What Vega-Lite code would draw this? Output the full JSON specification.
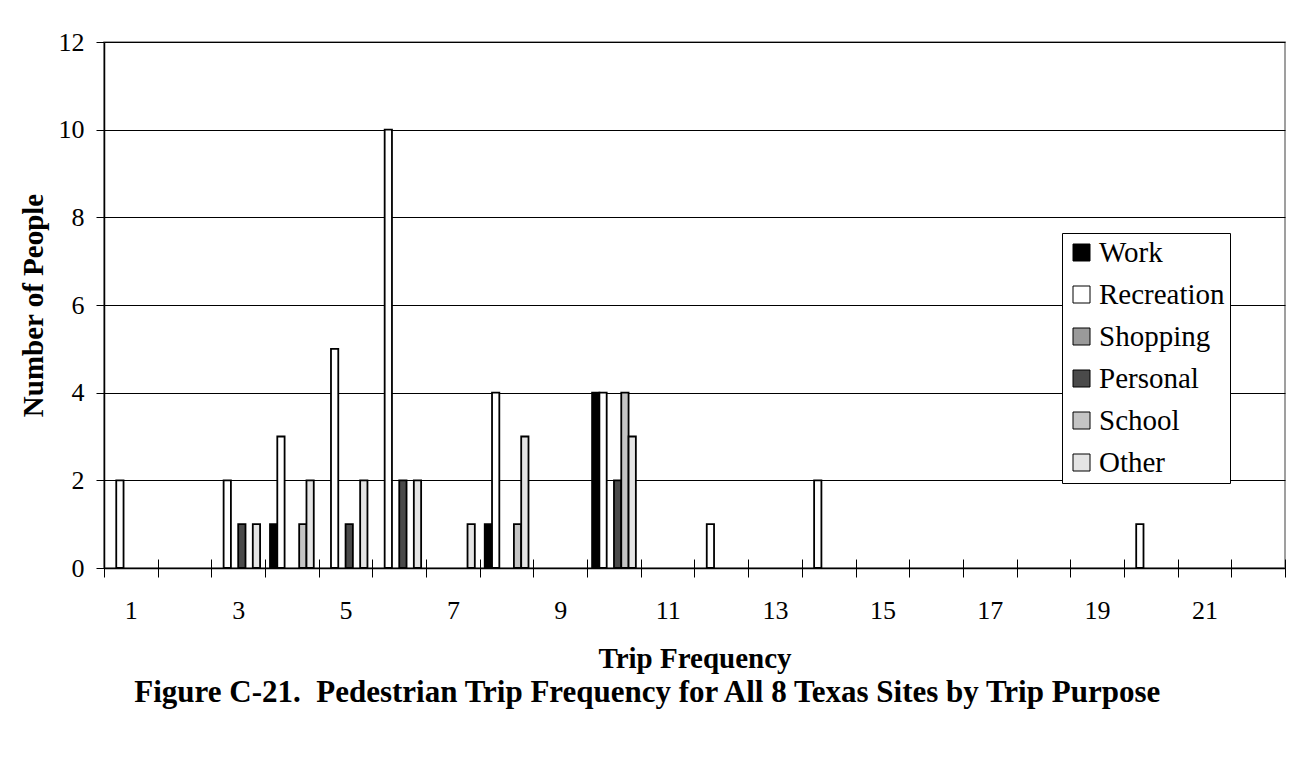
{
  "$schema": "https://vega.github.io/schema/vega-lite/v6.json",
  "width": 1181,
  "height": 526,
  "autosize": "none",
  "padding": {"left": 104, "top": 42, "right": 11, "bottom": 204},
  "background": "white",
  "title": {
    "text": "Figure C-21.\u00a0 Pedestrian Trip Frequency for All 8 Texas Sites by Trip Purpose",
    "orient": "bottom",
    "anchor": "middle",
    "frame": "bounds",
    "dx": -5,
    "font": "Liberation Serif",
    "fontSize": 31,
    "fontWeight": "bold",
    "color": "black",
    "offset": 5
  },
  "data": {
    "values": [
      {"freq": 1, "purpose": "Recreation", "people": 2},
      {"freq": 3, "purpose": "Recreation", "people": 2},
      {"freq": 3, "purpose": "Personal", "people": 1},
      {"freq": 3, "purpose": "Other", "people": 1},
      {"freq": 4, "purpose": "Work", "people": 1},
      {"freq": 4, "purpose": "Recreation", "people": 3},
      {"freq": 4, "purpose": "School", "people": 1},
      {"freq": 4, "purpose": "Other", "people": 2},
      {"freq": 5, "purpose": "Recreation", "people": 5},
      {"freq": 5, "purpose": "Personal", "people": 1},
      {"freq": 5, "purpose": "Other", "people": 2},
      {"freq": 6, "purpose": "Recreation", "people": 10},
      {"freq": 6, "purpose": "Personal", "people": 2},
      {"freq": 6, "purpose": "Other", "people": 2},
      {"freq": 7, "purpose": "Other", "people": 1},
      {"freq": 8, "purpose": "Work", "people": 1},
      {"freq": 8, "purpose": "Recreation", "people": 4},
      {"freq": 8, "purpose": "School", "people": 1},
      {"freq": 8, "purpose": "Other", "people": 3},
      {"freq": 10, "purpose": "Work", "people": 4},
      {"freq": 10, "purpose": "Recreation", "people": 4},
      {"freq": 10, "purpose": "Personal", "people": 2},
      {"freq": 10, "purpose": "School", "people": 4},
      {"freq": 10, "purpose": "Other", "people": 3},
      {"freq": 12, "purpose": "Recreation", "people": 1},
      {"freq": 14, "purpose": "Recreation", "people": 2},
      {"freq": 20, "purpose": "Recreation", "people": 1}
    ]
  },
  "layer": [
    {
      "mark": {"type": "bar", "stroke": "black", "strokeWidth": 1.8},
      "encoding": {
        "x": {
          "field": "freq",
          "type": "ordinal",
          "scale": {"domain": [1,2,3,4,5,6,7,8,9,10,11,12,13,14,15,16,17,18,19,20,21,22], "paddingInner": 0, "paddingOuter": 0},
          "axis": {
            "orient": "bottom",
            "title": "Trip Frequency",
            "labelAngle": 0,
            "labelExpr": "datum.value % 2 == 1 ? datum.label : ''",
            "tickBand": "extent",
            "tickSize": 9,
            "tickColor": "black",
            "domainColor": "black",
            "labelPadding": 20,
            "titlePadding": 21
          }
        },
        "xOffset": {
          "field": "purpose",
          "type": "nominal",
          "scale": {"domain": ["Work", "Recreation", "Shopping", "Personal", "School", "Other"], "paddingInner": 0, "paddingOuter": 0.68}
        },
        "y": {
          "field": "people",
          "type": "quantitative",
          "scale": {"domain": [0, 12]},
          "axis": {
            "title": "Number of People",
            "values": [0, 2, 4, 6, 8, 10, 12],
            "tickSize": 8,
            "tickColor": "black",
            "domainColor": "black",
            "labelPadding": 12,
            "titlePadding": 10,
            "grid": true,
            "gridColor": "black",
            "gridOpacity": 1
          }
        },
        "color": {
          "field": "purpose",
          "type": "nominal",
          "scale": {
            "domain": ["Work", "Recreation", "Shopping", "Personal", "School", "Other"],
            "range": ["#000000", "#ffffff", "#9a9a9a", "#4a4a4a", "#c4c4c4", "#e4e4e4"]
          },
          "legend": {
            "title": null,
            "orient": "none",
            "legendX": 958,
            "legendY": 191,
            "symbolType": "square",
            "symbolSize": 289,
            "symbolStrokeColor": "black",
            "symbolStrokeWidth": 1,
            "symbolOpacity": 1,
            "fillColor": "white",
            "strokeColor": "black",
            "padding": 5,
            "rowPadding": 12,
            "labelFontSize": 29,
            "labelFont": "Liberation Serif",
            "labelColor": "black",
            "labelOffset": 3,
            "labelLimit": 300
          }
        }
      }
    },
    {
      "mark": {"type": "rule", "strokeOpacity": 0},
      "encoding": {
        "x": {
          "field": "freq",
          "type": "ordinal",
          "axis": {
            "orient": "bottom",
            "title": null,
            "labels": false,
            "domain": false,
            "tickBand": "extent",
            "tickSize": -9,
            "tickColor": "black"
          }
        }
      }
    }
  ],
  "resolve": {"axis": {"x": "independent"}},
  "config": {
    "view": {"stroke": "#808080", "strokeWidth": 1.5},
    "legend": {"labelFont": "Liberation Serif"},
    "axis": {
      "labelFont": "Liberation Serif",
      "labelFontSize": 26,
      "labelColor": "black",
      "titleFont": "Liberation Serif",
      "titleFontSize": 29,
      "titleFontWeight": "bold",
      "titleColor": "black",
      "domainWidth": 1.5,
      "tickWidth": 1
    }
  }
}
